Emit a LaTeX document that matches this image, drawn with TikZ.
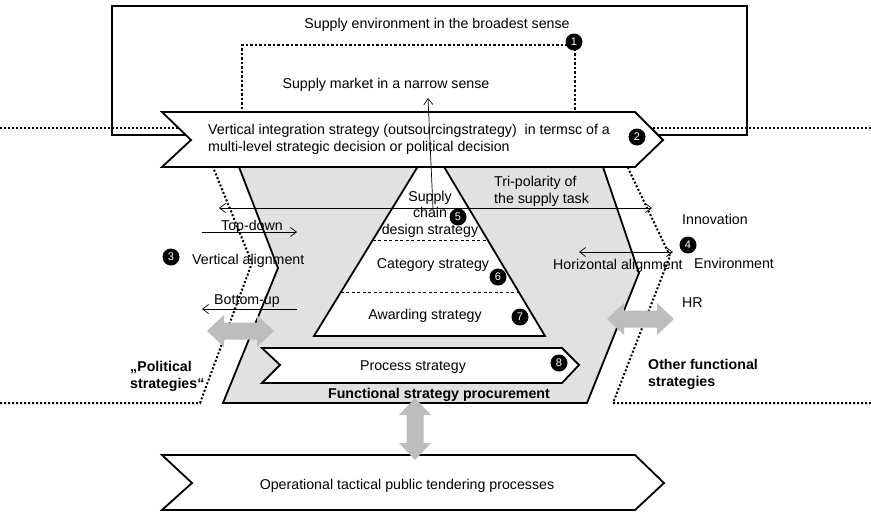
\documentclass[tikz,border=0pt]{standalone}
\usepackage{fontspec}
\setmainfont{Liberation Sans}
\usetikzlibrary{arrows.meta,calc}
\definecolor{panelgray}{HTML}{E1E1E1}
\definecolor{arrowgray}{HTML}{BDBDBD}

\begin{document}
\begin{tikzpicture}[x=1pt,y=-1pt,
  thickline/.style={line width=1.8pt, line join=miter},
  dotline/.style={line width=2pt, dash pattern=on 2pt off 2pt},
  thinline/.style={line width=0.7pt},
  thin arrow/.style={thinline, -{Straight Barb[length=6pt,width=9pt]}},
  twoway/.style={thinline, {Straight Barb[length=6pt,width=9pt]}-{Straight Barb[length=6pt,width=9pt]}},
  layerline/.style={thinline, dash pattern=on 3pt off 2.5pt},
  txt/.style={font=\fontsize{14.2}{16.5}\selectfont, inner sep=0pt},
  boldtxt/.style={font=\fontsize{14.2}{16.5}\selectfont\bfseries, inner sep=0pt},
  badge/.style={circle, fill=black, text=white, inner sep=0pt, minimum size=17pt,
                font=\fontsize{11}{11}\selectfont},
  pics/fat arrow/.style={code={
    \fill[arrowgray] (-#1,0) -- ({-#1+17},-16) -- ({-#1+17},-8.5) -- ({#1-17},-8.5)
      -- ({#1-17},-16) -- (#1,0) -- ({#1-17},16) -- ({#1-17},8.5) -- ({-#1+17},8.5)
      -- ({-#1+17},16) -- cycle;}},
  pics/fat arrow/.default=33.5,
]
\useasboundingbox (0,0) rectangle (871,512);

% level separators and the side borders
\draw[dotline] (0,128) -- (180,128);
\draw[dotline] (645,128) -- (871,128);
\draw[dotline] (0,403) -- (200,403) -- (252,263) -- (213,167);
\draw[dotline] (871,403) -- (613,403) -- (670,256) -- (628,168);

% supply environment and supply market
\node[draw, thickline, minimum width=635pt, minimum height=129pt, anchor=north west,
      inner sep=0pt] (env) at (111,5) {};
\node[draw, dotline, dash pattern=on 2.5pt off 2pt, minimum width=333pt, minimum height=69pt,
      anchor=north west, inner sep=0pt] (market) at (241,44) {};

% functional strategy panel
\draw[thickline, fill=panelgray] (239,167) -- (278,268) -- (223,403) -- (587,403)
  -- (639,273) -- (603,167) -- cycle;

% strategy pyramid
\coordinate (apex) at (431,145);
\coordinate (bl) at (314,336);
\coordinate (br) at (545,336);
\draw[thickline, fill=white] (apex) -- (bl) -- (br) -- cycle;
\draw[layerline] ($(apex)!0.497!(bl)$) -- ($(apex)!0.497!(br)$);
\draw[layerline] ($(apex)!0.770!(bl)$) -- ($(apex)!0.770!(br)$);

% process strategy chevron
\draw[thickline, fill=white] (262,348) -- (562,348) -- (579,365) -- (562,383)
  -- (262,383) -- (280,365) -- cycle;

% vertical integration chevron
\draw[thickline, fill=white] (162,112) -- (635,112) -- (663,140) -- (635,167)
  -- (162,167) -- (191,140) -- cycle;

% operational chevron
\draw[thickline, fill=white] (162,455) -- (635,455) -- (664,483) -- (635,510)
  -- (162,510) -- (192,483) -- cycle;

% thin arrows
\coordinate (triL) at (219,208);
\coordinate (triR) at (652,208);
\draw[twoway] (triL) -- (triR);
\coordinate (upFoot) at (433,208);
\coordinate (upTip) at (428,98);
\draw[thin arrow] (upFoot) -- (upTip);
\coordinate (tdL) at (202,232);
\coordinate (tdR) at (297,232);
\draw[thin arrow] (tdL) -- (tdR);
\coordinate (buR) at (297,309);
\coordinate (buL) at (202,309);
\draw[thin arrow] (buR) -- (buL);
\coordinate (haL) at (579,252);
\coordinate (haR) at (673,252);
\draw[twoway] (haL) -- (haR);

% broad grey exchange arrows
\pic at (240.5,331) {fat arrow};
\pic at (640.5,319) {fat arrow};
\pic[rotate=90] at (415,429) {fat arrow=31};

% labels (multi-line labels are placed by the baseline of their last line)
\node[txt, anchor=base] (envtext) at (437,28) {Supply environment in the broadest sense};
\node[txt, anchor=base] (markettext) at (386,88) {Supply market in a narrow sense};
\node[txt, anchor=base west, align=left] (vitext) at (208,151)
  {Vertical integration strategy (outsourcingstrategy)\ \ in termsc of a\\
   multi-level strategic decision or political decision};
\node[txt, anchor=base, align=center] (scd) at (430,234) {Supply\\chain\\design strategy};
\node[txt, anchor=base] (cat) at (433,268) {Category strategy};
\node[txt, anchor=base] (award) at (425,319) {Awarding strategy};
\node[txt, anchor=base] (process) at (413,370) {Process strategy};
\node[boldtxt, anchor=base] (functional) at (439,398) {Functional strategy procurement};
\node[txt, anchor=base] (operational) at (407,489) {Operational tactical public tendering processes};
\node[txt, anchor=base west, align=left] (tripolar) at (494,203) {Tri-polarity of\\the supply task};
\node[txt, anchor=base] (topdown) at (252,230) {Top-down};
\node[txt, anchor=base west] (vertalign) at (192,264) {Vertical alignment};
\node[txt, anchor=base] (bottomup) at (247,304) {Bottom-up};
\node[txt, anchor=base west] (horizalign) at (553,269) {Horizontal alignment};
\node[txt, anchor=base west] (innovation) at (682,224) {Innovation};
\node[txt, anchor=base west] (environment) at (694,268) {Environment};
\node[txt, anchor=base west] (hr) at (682,307) {HR};
\node[boldtxt, anchor=base west, align=left] (otherfs) at (648,386) {Other functional\\strategies};
\node[boldtxt, anchor=base west, align=left] (political) at (130,388) {„Political\\strategies“};

% numbered markers
\node[badge] (b1) at (574,42) {1};
\node[badge] (b2) at (637,137) {2};
\node[badge] (b3) at (171,257) {3};
\node[badge] (b4) at (688,245) {4};
\node[badge] (b5) at (458,217) {5};
\node[badge] (b6) at (498,277) {6};
\node[badge] (b7) at (520,317) {7};
\node[badge] (b8) at (559,363) {8};
\end{tikzpicture}
\end{document}
